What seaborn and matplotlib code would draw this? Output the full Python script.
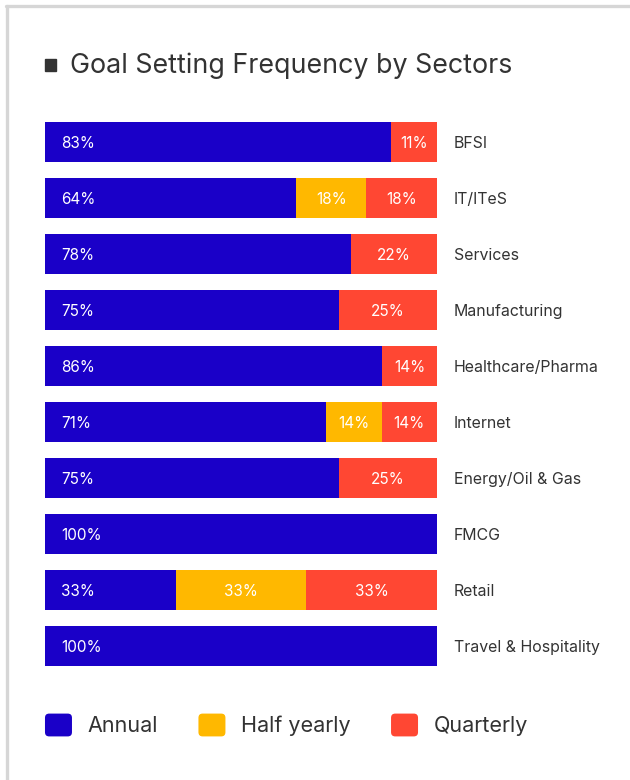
import matplotlib
matplotlib.use("Agg")
import matplotlib.pyplot as plt
import seaborn as sns
import pandas as pd
import numpy as np
from matplotlib.patches import FancyBboxPatch, Rectangle
from matplotlib.legend_handler import HandlerPatch

# ---- data ----
sectors = ["BFSI", "IT/ITeS", "Services", "Manufacturing", "Healthcare/Pharma",
           "Internet", "Energy/Oil & Gas", "FMCG", "Retail", "Travel & Hospitality"]
annual = [83, 64, 78, 75, 86, 71, 75, 100, 33, 100]
half_yearly = [0, 18, 0, 0, 0, 14, 0, 0, 33, 0]
quarterly = [11, 18, 22, 25, 14, 14, 25, 0, 33, 0]
series_names = ["Annual", "Half yearly", "Quarterly"]
title = "Goal Setting Frequency by Sectors"

colors = ["#1a00c8", "#ffb800", "#ff4733"]
text_dark = "#333333"

sns.set_theme(style="white")
plt.rcParams["font.family"] = ["Inter", "DejaVu Sans"]

df = pd.DataFrame({"sector": sectors, "Annual": annual,
                   "Half yearly": half_yearly, "Quarterly": quarterly})
total = df[series_names].sum(axis=1)
# share of each row, so every bar spans the full width
share = df[series_names].div(total, axis=0)
df["c1"] = share["Annual"]
df["c2"] = share["Annual"] + share["Half yearly"]
df["c3"] = df["c2"] + share["Quarterly"]

W, H = 630, 780
fig = plt.figure(figsize=(W / 100, H / 100), dpi=100)
fig.patch.set_facecolor("white")

# card frame (top and left edges)
fig.add_artist(plt.Line2D([5.5 / W, 1], [1 - 5.5 / H, 1 - 5.5 / H],
                          color="#d6d6d6", lw=2.4, transform=fig.transFigure))
fig.add_artist(plt.Line2D([6.5 / W, 6.5 / W], [0, 1 - 5.5 / H],
                          color="#d6d6d6", lw=2.4, transform=fig.transFigure))

left_px, right_px = 45, 437
top_px, bot_px = 114, 674
ax = fig.add_axes([left_px / W, 1 - bot_px / H,
                   (right_px - left_px) / W, (bot_px - top_px) / H])

bar_w = 0.73
for col, c in zip(["c3", "c2", "c1"], colors[::-1]):
    sns.barplot(data=df, x=col, y="sector", orient="h", color=c,
                width=bar_w, ax=ax, saturation=1, linewidth=0, errorbar=None)

ax.set_xlim(0, 1)
ax.set_ylim(len(sectors) - 0.5, -0.5)
ax.set_xlabel("")
ax.set_ylabel("")
ax.set_xticks([])
for s in ax.spines.values():
    s.set_visible(False)
ax.yaxis.tick_right()
ax.tick_params(axis="y", length=0, pad=12, labelsize=11.45, labelcolor=text_dark)

# value labels inside the segments
pad_ax = 16 / (right_px - left_px)
for i in range(len(sectors)):
    vals = [annual[i], half_yearly[i], quarterly[i]]
    starts = [0, df["c1"][i], df["c2"][i]]
    ends = [df["c1"][i], df["c2"][i], df["c3"][i]]
    for k, v in enumerate(vals):
        if v <= 0:
            continue
        if k == 0:
            ax.text(starts[k] + pad_ax, i + 0.03, f"{v}%", ha="left",
                    va="center", color="white", fontsize=11)
        else:
            ax.text((starts[k] + ends[k]) / 2, i + 0.03, f"{v}%", ha="center",
                    va="center", color="white", fontsize=11)

# title with square bullet
fig.add_artist(Rectangle((45 / W, 1 - 71 / H), 11 / W, 12 / H,
                         color=text_dark, transform=fig.transFigure))
fig.text(70 / W, 1 - 66 / H, title, ha="left", va="center",
         fontsize=19.3, color=text_dark)


class RoundedSquare(HandlerPatch):
    def create_artists(self, legend, orig_handle, xdescent, ydescent,
                       width, height, fontsize, trans):
        r = 3
        p = FancyBboxPatch((-xdescent + r, -ydescent + r), width - 2 * r,
                           height - 2 * r,
                           boxstyle=f"round,pad={r},rounding_size={r}",
                           facecolor=orig_handle.get_facecolor(),
                           edgecolor="none", transform=trans)
        return [p]


handles = [Rectangle((0, 0), 1, 1, facecolor=c) for c in colors]
leg = fig.legend(handles, series_names, loc="center left",
                 bbox_to_anchor=(25.6 / W, 1 - 725 / H), ncol=3, frameon=False,
                 fontsize=15.5, handlelength=1.254, handleheight=1.254,
                 handletextpad=0.74, columnspacing=1.86,
                 handler_map={Rectangle: RoundedSquare()})
for t in leg.get_texts():
    t.set_color(text_dark)

fig.savefig("out.png", dpi=100, facecolor="white")
